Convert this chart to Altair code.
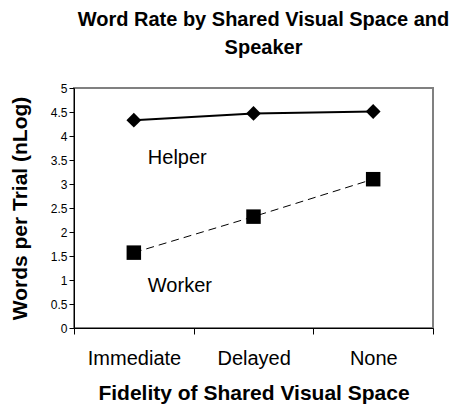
import altair as alt
import pandas as pd

categories = ["Immediate", "Delayed", "None"]
helper_values = [4.33, 4.47, 4.51]
worker_values = [1.57, 2.32, 3.10]
y_ticks = [0, 0.5, 1, 1.5, 2, 2.5, 3, 3.5, 4, 4.5, 5]
speakers = ["Helper", "Worker"]

rows = []
for i, c in enumerate(categories):
    rows.append({"cat": c, "pos": i + 0.5, "speaker": "Helper", "value": helper_values[i], "first": i == 0})
    rows.append({"cat": c, "pos": i + 0.5, "speaker": "Worker", "value": worker_values[i], "first": i == 0})
df = pd.DataFrame(rows)

label_expr = " : ".join(
    [f"datum.value == {i} ? '{c}'" for i, c in enumerate(categories)]
) + " : ''"

FONT = "Liberation Sans"

x = alt.X(
    "pos:Q",
    scale=alt.Scale(domain=[0, len(categories)], nice=False, zero=False),
    axis=alt.Axis(
        values=list(range(len(categories) + 1)),
        labelExpr=label_expr,
        labelOffset=60,
        labelFontSize=20,
        labelFont=FONT,
        labelColor="black",
        labelFlush=False,
        labelOverlap=False,
        labelPadding=14,
        tickColor="black",
        tickSize=6,
        domainColor="black",
        grid=False,
        title="Fidelity of Shared Visual Space",
        titleFont=FONT,
        titleFontSize=21,
        titleFontWeight="bold",
        titleColor="black",
        titlePadding=14,
    ),
)
y = alt.Y(
    "value:Q",
    scale=alt.Scale(domain=[0, 5], nice=False),
    axis=alt.Axis(
        values=y_ticks,
        format="~g",
        labelFontSize=12,
        labelFont=FONT,
        labelColor="black",
        labelPadding=2,
        tickColor="black",
        tickSize=5,
        domainColor="black",
        grid=False,
        title="Words per Trial (nLog)",
        titleFont=FONT,
        titleFontSize=21,
        titleFontWeight="bold",
        titleColor="black",
        titlePadding=20,
    ),
)

base = alt.Chart(df).encode(x=x, y=y)

helper_line = base.transform_filter(alt.datum.speaker == "Helper").mark_line(color="black", strokeWidth=2)
worker_line = base.transform_filter(alt.datum.speaker == "Worker").mark_line(color="black", strokeWidth=1, strokeDash=[8, 5])
helper_pts = base.transform_filter(alt.datum.speaker == "Helper").mark_point(shape="diamond", filled=True, size=220, color="black", opacity=1)
worker_pts = base.transform_filter(alt.datum.speaker == "Worker").mark_point(shape="square", filled=True, size=210, color="black", opacity=1)

helper_lbl = base.transform_filter((alt.datum.speaker == "Helper") & alt.datum.first).mark_text(
    align="left", baseline="alphabetic", dx=14, dy=44, fontSize=20, font=FONT, color="black"
).encode(text="speaker:N")
worker_lbl = base.transform_filter((alt.datum.speaker == "Worker") & alt.datum.first).mark_text(
    align="left", baseline="alphabetic", dx=14, dy=39, fontSize=20, font=FONT, color="black"
).encode(text="speaker:N")

chart = alt.layer(
    helper_line, worker_line, helper_pts, worker_pts, helper_lbl, worker_lbl
).properties(
    width=359,
    height=240,
    title=alt.TitleParams(
        text=["Word Rate by Shared Visual Space and", "Speaker"],
        font=FONT,
        fontSize=20,
        fontWeight="bold",
        color="black",
        lineHeight=28,
        anchor="middle",
        frame="group",
        dx=10,
        offset=24,
    ),
    padding={"left": 66, "top": 80, "right": 24, "bottom": 80},
    autosize="none",
    background="white",
).configure_view(stroke="#808080", strokeWidth=2)

chart.save("out.html", embed_options={"renderer": "svg", "actions": False})
